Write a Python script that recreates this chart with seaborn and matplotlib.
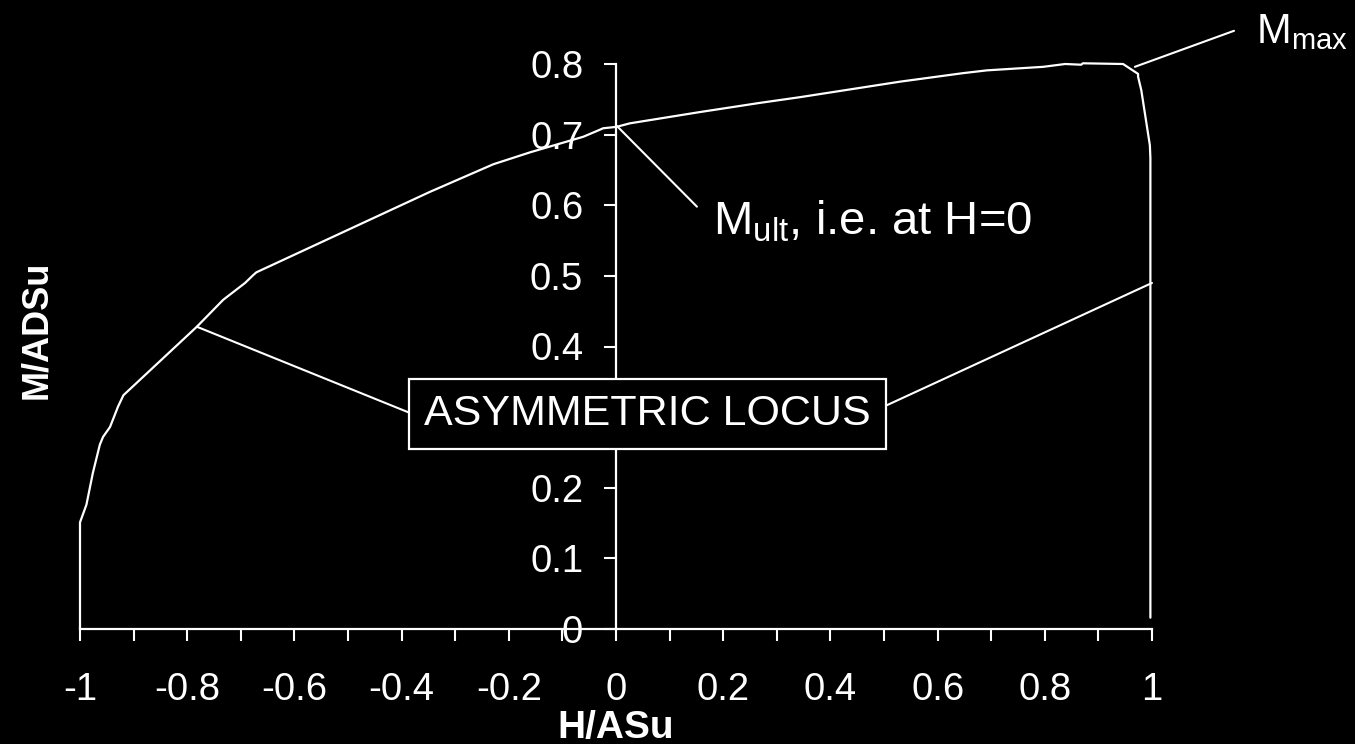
import numpy as np
import pandas as pd
import matplotlib
matplotlib.use("Agg")
import matplotlib.pyplot as plt
import seaborn as sns

# ---- data ----
H = [-1.0, -1.0, -1.0, -0.988, -0.976, -0.963, -0.957, -0.944, -0.929, -0.919,
     -0.782, -0.733, -0.692, -0.677, -0.671, -0.509, -0.347, -0.229, -0.160,
     -0.061, -0.033, -0.024, 0.001, 0.026, 0.157, 0.269, 0.343, 0.530, 0.647,
     0.692, 0.797, 0.838, 0.868, 0.871, 0.946, 0.974, 0.974, 0.980, 0.996,
     0.997, 0.997]
M = [0.0, 0.10, 0.151, 0.176, 0.221, 0.261, 0.272, 0.286, 0.315, 0.331,
     0.428, 0.466, 0.490, 0.501, 0.505, 0.562, 0.619, 0.658, 0.675,
     0.697, 0.706, 0.709, 0.711, 0.716, 0.732, 0.745, 0.753, 0.775, 0.787,
     0.791, 0.796, 0.800, 0.799, 0.801, 0.800, 0.786, 0.782, 0.763, 0.685,
     0.667, 0.016]

x_major = [-1, -0.8, -0.6, -0.4, -0.2, 0, 0.2, 0.4, 0.6, 0.8, 1]
x_major_labels = ["-1", "-0.8", "-0.6", "-0.4", "-0.2", "0", "0.2", "0.4", "0.6", "0.8", "1"]
x_minor = [-0.9, -0.7, -0.5, -0.3, -0.1, 0.1, 0.3, 0.5, 0.7, 0.9]
y_ticks = [0, 0.1, 0.2, 0.3, 0.4, 0.5, 0.6, 0.7, 0.8]
# the 0.3 label is hidden behind the "ASYMMETRIC LOCUS" box in the reference
y_tick_labels = ["0", "0.1", "0.2", "", "0.4", "0.5", "0.6", "0.7", "0.8"]

x_title = "H/ASu"
y_title = "M/ADSu"
box_text = "ASYMMETRIC LOCUS"
mmax_text = r"M$_{\mathrm{max}}$"
mult_text = r"M$_{\mathrm{ult}}$, i.e. at H=0"

df = pd.DataFrame({"H": H, "M": M})

# ---- style ----
sns.set_theme(style="dark", rc={
    "figure.facecolor": "black",
    "axes.facecolor": "black",
    "savefig.facecolor": "black",
    "axes.edgecolor": "white",
    "text.color": "white",
    "xtick.color": "white",
    "ytick.color": "white",
    "axes.grid": False,
})
plt.rcParams["font.family"] = ["Liberation Sans", "DejaVu Sans"]
plt.rcParams["mathtext.fontset"] = "custom"
plt.rcParams["mathtext.rm"] = "Liberation Sans"
plt.rcParams["mathtext.default"] = "regular"

fig = plt.figure(figsize=(13.55, 7.44), dpi=100)
ax = fig.add_axes([80 / 1355, 1 - 629 / 744, (1152 - 80) / 1355, (629 - 64) / 744])

sns.lineplot(data=df, x="H", y="M", sort=False, estimator=None,
             color="white", linewidth=1.6, ax=ax, clip_on=False)

ax.set_xlim(-1, 1)
ax.set_ylim(0, 0.8)

for s in ["top", "right"]:
    ax.spines[s].set_visible(False)
ax.spines["left"].set_position(("data", 0))
ax.spines["bottom"].set_position(("data", 0))
for s in ["left", "bottom"]:
    ax.spines[s].set_color("white")
    ax.spines[s].set_linewidth(1.6)

ax.set_xticks(x_major)
ax.set_xticklabels(x_major_labels)
ax.set_xticks(x_minor, minor=True)
ax.set_yticks(y_ticks)
ax.set_yticklabels(y_tick_labels)

ax.tick_params(axis="x", which="both", direction="out", length=8.6, width=1.5,
               colors="white", labelsize=27.5, pad=22.5, bottom=True)
ax.tick_params(axis="y", which="both", direction="out", length=8.6, width=1.5,
               colors="white", labelsize=27.5, pad=15, left=True)

ax.set_xlabel(x_title, fontsize=28, fontweight="bold", color="white")
ax.xaxis.set_label_coords(0.5, (629 - 710) / 565)
ax.set_ylabel(y_title, fontsize=26, fontweight="bold", color="white")
ax.yaxis.set_label_coords((54 - 80) / 1072, (629 - 330) / 565)

# ---- annotations ----
lw = 1.5
ax.annotate("", xy=(0.968, 0.796), xytext=(1.153, 0.847),
            arrowprops=dict(arrowstyle="-", color="white", lw=lw, shrinkA=0, shrinkB=0),
            annotation_clip=False)
ax.text(1.194, 0.830, mmax_text, fontsize=30, color="white",
        ha="left", va="baseline", clip_on=False)

ax.annotate("", xy=(0.002, 0.712), xytext=(0.151, 0.598),
            arrowprops=dict(arrowstyle="-", color="white", lw=lw, shrinkA=0, shrinkB=0))
ax.text(0.181, 0.558, mult_text, fontsize=34, color="white",
        ha="left", va="baseline")

ax.annotate("", xy=(-0.782, 0.428), xytext=(-0.30, 0.28),
            arrowprops=dict(arrowstyle="-", color="white", lw=lw, shrinkA=0, shrinkB=0),
            zorder=3)
ax.annotate("", xy=(1.0, 0.490), xytext=(0.40, 0.28),
            arrowprops=dict(arrowstyle="-", color="white", lw=lw, shrinkA=0, shrinkB=0),
            zorder=3)
ax.text(0.058, 0.305, box_text, fontsize=31, color="white", ha="center", va="center",
        zorder=6,
        bbox=dict(boxstyle="square,pad=0.35", facecolor="black", edgecolor="white", linewidth=1.6))

fig.savefig("out.png", dpi=100, facecolor="black")
